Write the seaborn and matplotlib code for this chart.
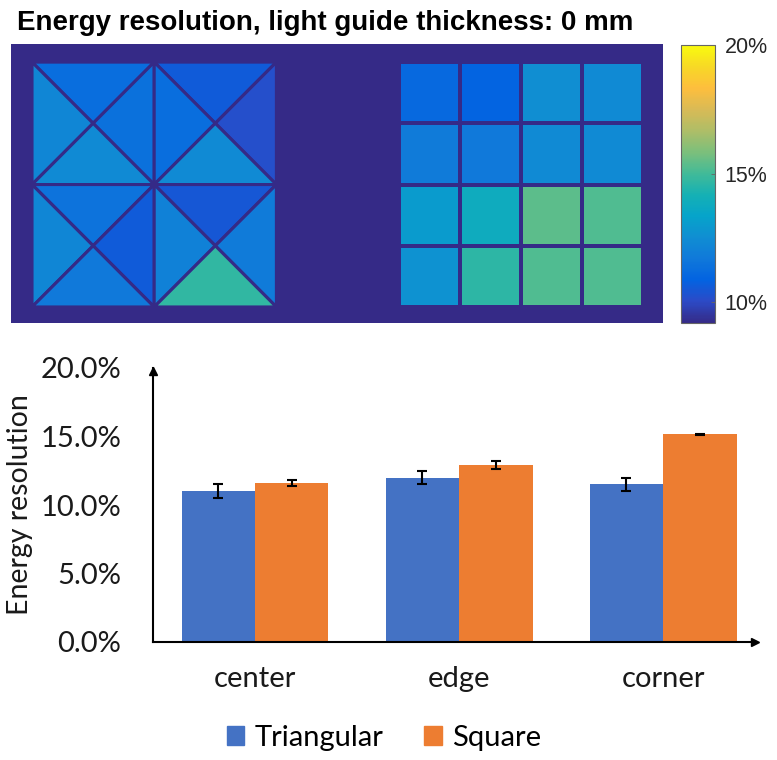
import matplotlib
matplotlib.use("Agg")
import matplotlib.pyplot as plt
import numpy as np
import pandas as pd
import seaborn as sns
from matplotlib.colors import LinearSegmentedColormap, Normalize
from matplotlib.collections import PolyCollection
from matplotlib.patches import Patch

plt.rcParams['font.family'] = ['Lato', 'DejaVu Sans']

# Top panel: energy resolution (%) per pixel
# triangular array: 2x2 squares (rows top -> bottom), each cut into 4 triangles
tri_top = [[11.3, 10.6], [11.5, 10.5]]
tri_left = [[12.2, 11.3], [12.2, 12.0]]
tri_right = [[11.4, 10.2], [10.6, 11.8]]
tri_bottom = [[12.4, 12.4], [11.7, 14.7]]

# square array: 4x4 pixels, rows top -> bottom
sq_values = [
    [11.1, 10.9, 12.5, 12.4],
    [11.8, 11.7, 12.4, 12.4],
    [13.0, 13.8, 15.4, 15.2],
    [12.7, 14.6, 15.2, 15.2],
]
cbar_min, cbar_max = 9.2, 20.0
cbar_ticks = [10, 15, 20]

# Bottom panel
positions = ["center", "edge", "corner"]
triangular_res = [11.0, 12.0, 11.5]
triangular_err = [0.5, 0.45, 0.45]
square_res = [11.6, 12.9, 15.15]
square_err = [0.2, 0.3, 0.05]

# parula-like colormap (MATLAB)
parula = LinearSegmentedColormap.from_list("parula", [
    (0.2081, 0.1663, 0.5292), (0.1707, 0.2919, 0.7792), (0.0117, 0.3875, 0.8820),
    (0.0629, 0.4737, 0.8554), (0.0641, 0.5570, 0.8240), (0.0231, 0.6418, 0.7913),
    (0.0843, 0.6928, 0.7062), (0.2586, 0.7317, 0.5954), (0.4871, 0.7491, 0.4840),
    (0.6834, 0.7435, 0.4044), (0.8507, 0.7299, 0.3360), (0.9938, 0.7455, 0.2403),
    (0.9697, 0.8481, 0.1475), (0.9763, 0.9831, 0.0538)])
norm = Normalize(cbar_min, cbar_max)
bg = parula(0.0)

fig = plt.figure(figsize=(7.77, 7.60), dpi=100)

# ---- pixel maps
ax_map = fig.add_axes([11/777, 437/760, 652/777, 279/760])
ax_map.set_facecolor(bg)
verts, vals = [], []
for r in range(2):
    for c in range(2):
        x0, x1 = c, c + 1
        y1, y0 = 2 - r, 1 - r
        cen = (c + 0.5, 1.5 - r)
        verts += [[(x0, y1), (x1, y1), cen], [(x0, y0), (x0, y1), cen],
                  [(x1, y0), (x1, y1), cen], [(x0, y0), (x1, y0), cen]]
        vals += [tri_top[r][c], tri_left[r][c], tri_right[r][c], tri_bottom[r][c]]
tris = PolyCollection(verts, array=np.array(vals), cmap=parula, norm=norm,
                      edgecolors=[bg], linewidths=2.2)
ax_map.add_collection(tris)

xe = 3 + np.linspace(0, 2, 5)
ye = np.linspace(2, 0, 5)
ax_map.pcolormesh(xe, ye, np.array(sq_values), cmap=parula, norm=norm,
                  edgecolors=[bg], linewidth=2.6)
ax_map.set_xlim(-0.172, 5.164)
ax_map.set_ylim(-0.131, 2.148)
ax_map.set_xticks([])
ax_map.set_yticks([])
for s in ax_map.spines.values():
    s.set_visible(False)

fig.text(17/777, 1 - 30/760, "Energy resolution, light guide thickness: 0 mm",
         fontsize=20, fontweight="bold", family="Liberation Sans", va="baseline")

cax = fig.add_axes([681/777, 437/760, 34/777, 278/760])
cb = fig.colorbar(tris, cax=cax, ticks=cbar_ticks, format="%d%%")
cb.outline.set_edgecolor("#666666")
cb.outline.set_linewidth(0.8)
cax.tick_params(direction="in", length=3, width=0.6, color="#666666", pad=7,
                labelsize=15.5, labelcolor="#262626")
for t in cax.get_yticklabels():
    t.set_family("Liberation Sans")

# ---- bar chart
ax = fig.add_axes([153/777, 118/760, 602/777, 274/760])
df = pd.DataFrame({
    "position": positions * 2,
    "layout": ["Triangular"] * 3 + ["Square"] * 3,
    "res": triangular_res + square_res,
})
colors = ["#4472c4", "#ed7d31"]
sns.barplot(data=df, x="position", y="res", hue="layout", palette=colors,
            width=0.72, errorbar=None, saturation=1, legend=False, ax=ax)
for cont, errs in zip(ax.containers, [triangular_err, square_err]):
    xs = [b.get_x() + b.get_width() / 2 for b in cont]
    ys = [b.get_height() for b in cont]
    ax.errorbar(xs, ys, yerr=errs, fmt="none", ecolor="black", elinewidth=1.5,
                capsize=3.5, capthick=1.5)

ax.set_xlim(-0.5, 2.45)
ax.set_ylim(0, 20)
ax.set_yticks([0, 5, 10, 15, 20])
ax.set_yticklabels([f"{v:.1f}%" for v in [0, 5, 10, 15, 20]])
ax.set_xlabel("")
ax.set_ylabel("Energy resolution", fontsize=20.5, color="#1a1a1a")
ax.yaxis.set_label_coords(-0.2, 0.5)
ax.tick_params(axis="y", length=0, labelsize=21, pad=23, labelcolor="#1a1a1a")
ax.tick_params(axis="x", length=0, labelsize=21, pad=17, labelcolor="#1a1a1a")
ax.spines[["top", "right"]].set_visible(False)
ax.spines["left"].set_linewidth(1.5)
ax.spines["bottom"].set_linewidth(1.5)
ax.plot(1, 0, ">k", ms=6, transform=ax.transAxes, clip_on=False)
ax.plot(0, 0.99, "^k", ms=6, transform=ax.transAxes, clip_on=False)

handles = [Patch(color=c, label=l) for c, l in zip(colors, ["Triangular", "Square"])]
fig.legend(handles=handles, loc="center", bbox_to_anchor=(0.494, 1 - 738/760), ncol=2,
           frameon=False, fontsize=21, handlelength=0.6, handleheight=0.6,
           handletextpad=0.35, columnspacing=1.4)

fig.savefig("out.png", dpi=100)
